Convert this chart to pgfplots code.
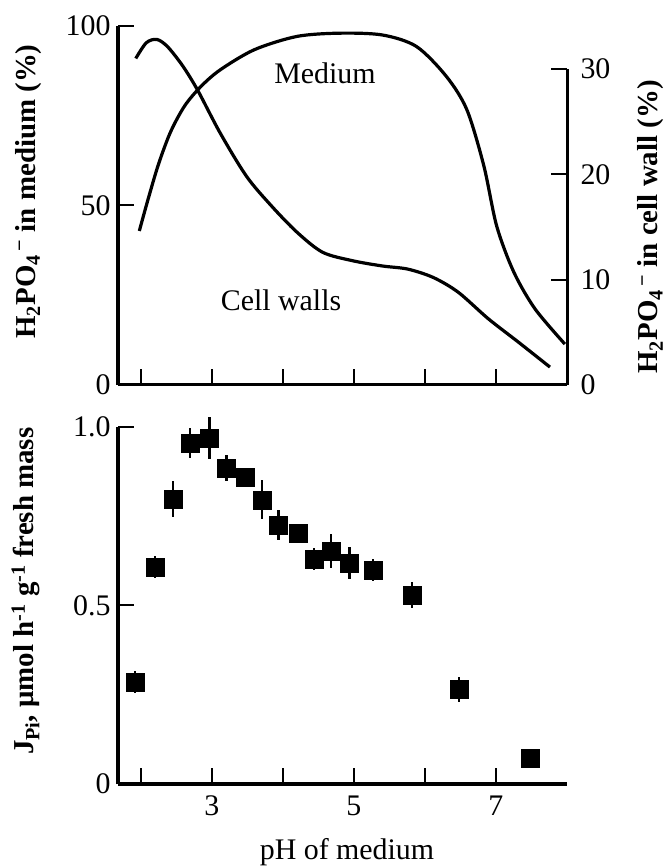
\documentclass[border=0pt]{standalone}
\usepackage{pgfplots}
\pgfplotsset{compat=1.18}
\usepackage{fontspec}
\setmainfont{Liberation Serif}
\begin{document}
\begin{tikzpicture}
\path[use as bounding box] (0bp,0bp) rectangle (668bp,866bp);
\pgfplotsset{
  common/.style={
    scale only axis, width=449bp,
    xmin=1.68, xmax=8,
    tick align=inside,
    major tick length=16bp,
    every tick/.style={black, line width=2bp},
    axis line style={line width=3bp},
    tick label style={font=\fontsize{30}{33}\selectfont},
    /pgf/number format/assume math mode=true,
    clip=false,
    anchor=south west,
  },
  curve/.style={black, line width=3.2bp, smooth, no marks},
}
% ---- top panel, left axis (medium)
\begin{axis}[common, at={(118bp,481bp)}, height=359bp,
  ymin=0, ymax=100, ytick={0,50,100},
  xtick={2,3,4,5,6,7}, xticklabels={},
  axis x line*=bottom, axis y line*=left,
  yticklabel style={xshift=-4bp},
  ylabel={H\textsubscript{2}PO\textsubscript{4}\textsuperscript{\,−} in medium (\%)},
  every axis y label/.style={at={(axis description cs:-0.2,0.539)}, rotate=90, anchor=center,
    font=\fontsize{29}{32}\selectfont\bfseries},
]
\addplot[curve] coordinates {
(1.98,42.9) (2.10,51.5) (2.25,61.5) (2.42,70.5) (2.62,77.8) (2.85,83.2) (3.12,87.8)
(3.60,93.4) (4.20,97.1) (4.80,98.0) (5.40,97.5) (5.88,94.3) (6.30,86.0)
(6.59,76.7) (6.83,61.0) (7.01,44.3) (7.25,31.5) (7.55,21.2) (7.97,11.4)
};
\end{axis}
% ---- top panel, right axis (cell walls)
\begin{axis}[common, at={(118bp,481bp)}, height=316bp,
  ymin=0, ymax=30, ytick={0,10,20,30},
  axis x line=none, axis y line*=right,
  yticklabel style={xshift=10bp},
  ylabel={H\textsubscript{2}PO\textsubscript{4}\textsuperscript{\,−} in cell wall (\%)},
  every axis y label/.style={at={(axis description cs:1.187,0.5)}, rotate=90, anchor=center,
    font=\fontsize{29}{32}\selectfont\bfseries},
]
\addplot[curve] coordinates {
(1.93,31.0) (2.08,32.5) (2.23,32.8) (2.38,32.1) (2.59,30.3) (2.80,28.0)
(3.12,23.9) (3.49,19.8) (3.84,17.0) (4.20,14.5) (4.56,12.6) (4.98,11.8)
(5.40,11.3) (5.76,11.0) (6.12,10.2) (6.47,8.8) (6.89,6.3) (7.31,4.1) (7.76,1.7)
};
\end{axis}
\node[font=\fontsize{30}{33}\selectfont] at (325bp,793bp) {Medium};
\node[font=\fontsize{30}{33}\selectfont] at (281bp,566bp) {Cell walls};
% ---- bottom panel
\begin{axis}[common, at={(118bp,82bp)}, height=357bp,
  ymin=0, ymax=1, ytick={0,0.5,1}, yticklabels={0,0.5,1.0},
  xtick={2,3,4,5,6,7}, xticklabels={,3,,5,,7},
  axis x line*=bottom, axis y line*=left,
  yticklabel style={xshift=-4bp},
  xticklabel style={yshift=-8bp},
  xlabel={pH of medium},
  every axis x label/.style={at={(axis description cs:0.51,-0.19)}, anchor=center,
    font=\fontsize{30}{33}\selectfont},
  ylabel={J\textsubscript{Pi}, μmol h\textsuperscript{-1} g\textsuperscript{-1} fresh mass},
  every axis y label/.style={at={(axis description cs:-0.205,0.54)}, rotate=90, anchor=center,
    font=\fontsize{29}{32}\selectfont\bfseries},
]
\addplot[black, only marks, mark=square*, mark size=9bp,
  error bars/.cd, y dir=both, y explicit,
  error bar style={line width=2.4bp}, error mark=none]
coordinates {
(1.92,0.286) +- (0,0.03)
(2.20,0.608) +- (0,0.03)
(2.45,0.798) +- (0,0.05)
(2.69,0.955) +- (0,0.043)
(2.97,0.969) +- (0,0.06)
(3.21,0.885) +- (0,0.036)
(3.47,0.860) +- (0,0.02)
(3.71,0.796) +- (0,0.055)
(3.94,0.725) +- (0,0.042)
(4.21,0.703) +- (0,0.02)
(4.44,0.630) +- (0,0.03)
(4.68,0.653) +- (0,0.047)
(4.94,0.619) +- (0,0.046)
(5.27,0.599) +- (0,0.03)
(5.82,0.529) +- (0,0.037)
(6.48,0.265) +- (0,0.035)
(7.48,0.073) +- (0,0)
};
\end{axis}
\end{tikzpicture}
\end{document}
